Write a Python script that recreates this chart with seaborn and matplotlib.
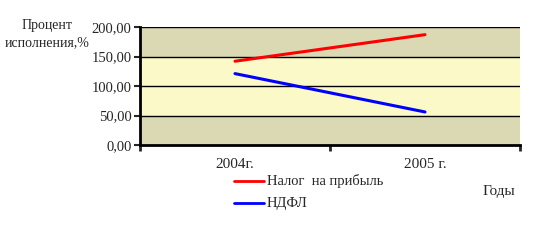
import matplotlib
matplotlib.use("Agg")
import matplotlib.pyplot as plt
import seaborn as sns
import pandas as pd
import numpy as np
from matplotlib.ticker import FuncFormatter

years = ["2004г.", "2005 г."]
profit_tax = [142, 187]
ndfl = [121, 56]
series_names = ["Налог  на прибыль", "НДФЛ"]
yticks = [0, 50, 100, 150, 200]

sns.set_theme(style="white")
plt.rcParams['font.family'] = ['Liberation Serif', 'DejaVu Serif']

pos = np.arange(len(years)) + 0.5
df = pd.DataFrame({
    "x": np.concatenate([pos, pos]),
    "y": profit_tax + ndfl,
    "s": [series_names[0]] * 2 + [series_names[1]] * 2,
})

fig = plt.figure(figsize=(5.43, 2.5), dpi=100)
ax = fig.add_axes([140/543, 105/250, 380/543, 118/250])

# background bands
dark = "#dad9b4"
light = "#fbf9c8"
ax.axhspan(0, 50, color=dark, lw=0, zorder=0)
ax.axhspan(50, 150, color=light, lw=0, zorder=0)
ax.axhspan(150, 200, color=dark, lw=0, zorder=0)

sns.lineplot(data=df, x="x", y="y", hue="s", palette=["#ff0000", "#0000ff"],
             linewidth=2.2, ax=ax, legend=False, zorder=3)

for v in yticks[1:]:
    ax.axhline(v, color="black", lw=1, zorder=2)

ax.set_xlim(0, len(years))
ax.set_ylim(0, 200)
ax.set_yticks(yticks)
ax.yaxis.set_major_formatter(FuncFormatter(lambda v, p: f"{v:.2f}".replace(".", ",")))
ax.set_xticks(np.arange(len(years) + 1))
ax.set_xticklabels([])
ax.set_xticks(pos, minor=True)
ax.set_xticklabels(years, minor=True)
ax.tick_params(axis="x", which="minor", length=0, pad=9, labelsize=11)
ax.tick_params(axis="x", which="major", length=4, width=2, direction="out", bottom=True)
ax.tick_params(axis="y", length=4, width=1.5, direction="out", left=True, labelsize=10.5, pad=2)
for s in ["top", "right"]:
    ax.spines[s].set_visible(False)
for s in ["left", "bottom"]:
    ax.spines[s].set_color("black")
    ax.spines[s].set_linewidth(2)
ax.set_xlabel("")
ax.set_ylabel("")

fig.text(47/543, 1 - 25/250, "Процент", ha="center", va="center", fontsize=10)
fig.text(47/543, 1 - 43/250, "исполнения,%", ha="center", va="center", fontsize=10)
fig.text(499/543, 1 - 192/250, "Годы", ha="center", va="center", fontsize=11)

# legend
colors = ["#ff0000", "#0000ff"]
for i, (name, c) in enumerate(zip(series_names, colors)):
    yy = 1 - (181 + 22 * i) / 250
    fig.add_artist(plt.Line2D([234/543, 264/543], [yy, yy], color=c, lw=2))
    fig.text(267/543, yy, name, ha="left", va="center", fontsize=10.5)

fig.savefig("out.png", dpi=100)
